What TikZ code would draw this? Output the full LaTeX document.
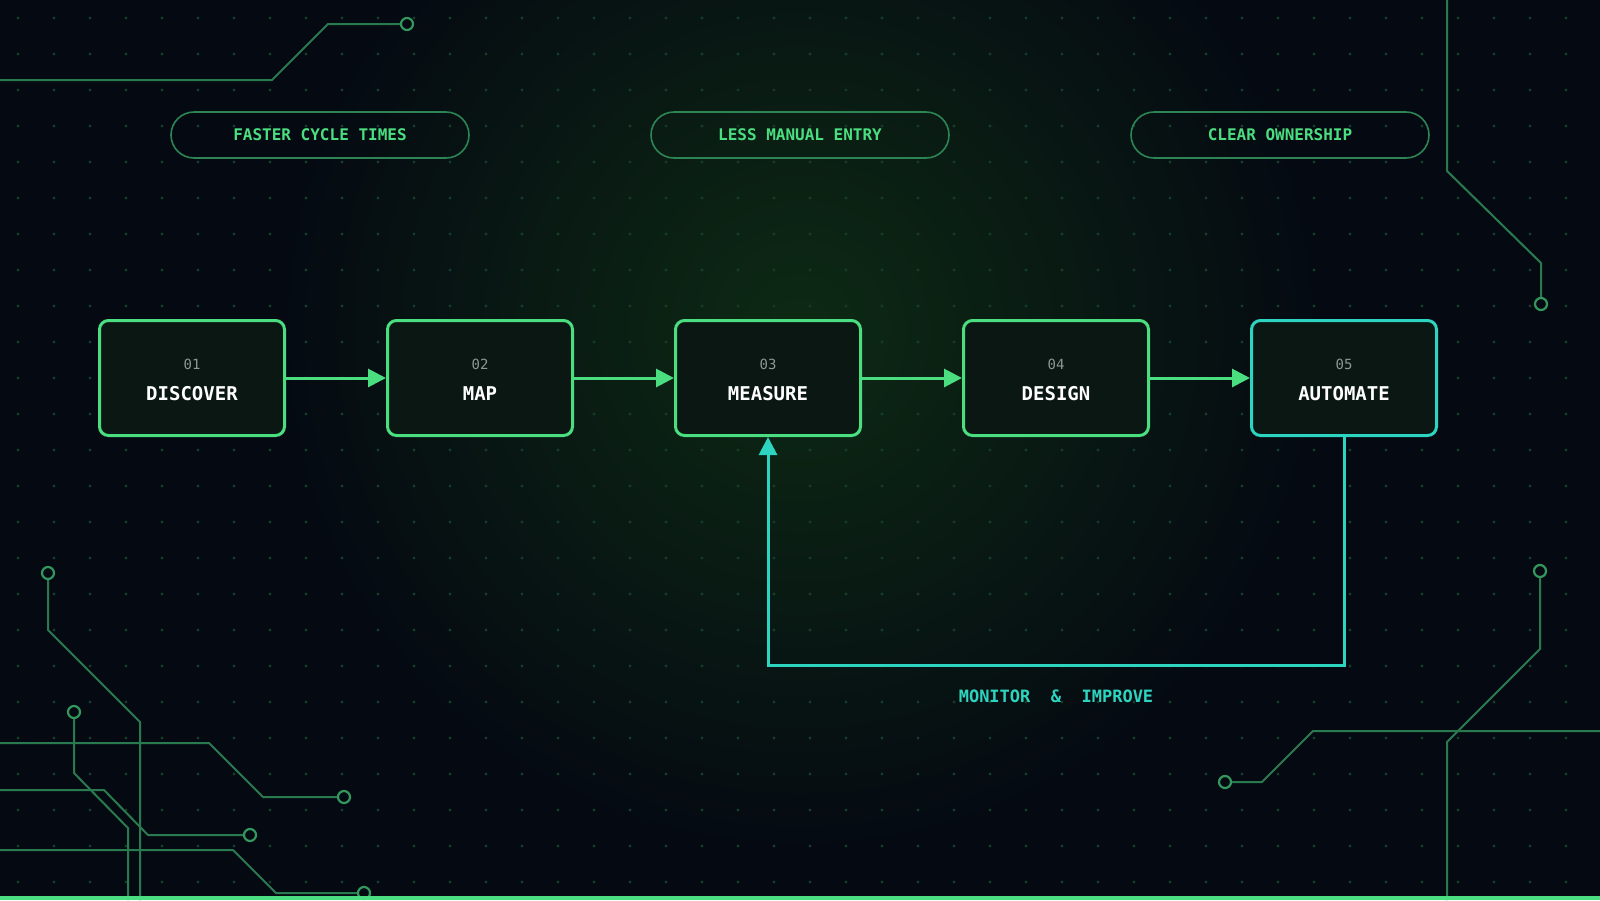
\documentclass[tikz,border=0pt]{standalone}
\usepackage{fontspec}
\setmonofont{DejaVu Sans Mono}
\usetikzlibrary{arrows.meta}
\definecolor{bg}{HTML}{050A12}
\definecolor{glow}{HTML}{0D2A14}
\definecolor{neon}{HTML}{4ADE80}
\definecolor{teal}{HTML}{2DD4BF}
\definecolor{trace}{HTML}{2A7A50}
\definecolor{dotc}{HTML}{163D28}
\definecolor{boxfill}{HTML}{0A1712}
\definecolor{numc}{HTML}{8A9A92}
\begin{document}
\begin{tikzpicture}[x=1pt,y=-1pt,
  stepbox/.style={draw=neon,line width=3pt,rounded corners=9pt,fill=boxfill,minimum width=185pt,minimum height=115pt,inner sep=0pt},
  pill/.style={draw=trace!90!neon,line width=1.6pt,rounded corners=23pt,minimum width=298pt,minimum height=46pt,text=neon,font=\ttfamily\bfseries\fontsize{16}{16}\selectfont},
  num/.style={text=numc,font=\ttfamily\fontsize{14}{14}\selectfont},
  lab/.style={text=white,font=\ttfamily\bfseries\fontsize{19}{19}\selectfont},
  flow/.style={draw=neon,line width=3pt,-{Triangle[length=18pt,width=18pt]}},
  tr/.style={draw=trace,line width=2pt},
  pad/.style={draw=trace!70!neon,line width=2.2pt,fill=bg,circle,minimum size=12pt,inner sep=0pt}]
\fill[bg] (0,0) rectangle (1600,900);
\useasboundingbox (0,0) rectangle (1600,900);
\begin{scope}
\clip (0,0) rectangle (1600,900);
\shade[inner color=glow,outer color=bg] (800,330) circle (520);
\end{scope}
\foreach \i in {0,...,44}{\foreach \j in {0,...,24}{
  \fill[dotc] (18+36*\i,18+36*\j) circle (1.7);}}
% circuit traces
\node[pad] (p1) at (407,24) {};
\draw[tr] (0,80) -- (272,80) -- (328,24) -- (p1);
\node[pad] (p2) at (1541,304) {};
\draw[tr] (1447,0) -- (1447,171) -- (1541,263) -- (p2);
\node[pad] (p3) at (48,573) {};
\draw[tr] (p3) -- (48,630) -- (140,722) -- (140,900);
\node[pad] (p4) at (74,712) {};
\draw[tr] (p4) -- (74,773) -- (128,828) -- (128,900);
\node[pad] (p5) at (344,797) {};
\draw[tr] (0,743) -- (209,743) -- (263,797) -- (p5);
\node[pad] (p6) at (250,835) {};
\draw[tr] (0,790) -- (104,790) -- (148,835) -- (p6);
\node[pad] (p7) at (364,893) {};
\draw[tr] (0,850) -- (233,850) -- (276,893) -- (p7);
\node[pad] (p8) at (1540,571) {};
\draw[tr] (p8) -- (1540,649) -- (1447,742) -- (1447,900);
\node[pad] (p9) at (1225,782) {};
\draw[tr] (1600,731) -- (1313,731) -- (1262,782) -- (p9);
\fill[neon] (0,896) rectangle (1600,900);
% pills
\node[pill] (b1) at (320,135) {FASTER CYCLE TIMES};
\node[pill] (b2) at (800,135) {LESS MANUAL ENTRY};
\node[pill] (b3) at (1280,135) {CLEAR OWNERSHIP};
% steps
\foreach \n/\x/\k/\t/\c in {s1/192/01/DISCOVER/neon,s2/480/02/MAP/neon,s3/768/03/MEASURE/neon,s4/1056/04/DESIGN/neon,s5/1344/05/AUTOMATE/teal}{
  \node[stepbox,draw=\c] (\n) at (\x,378) {};
  \node[num] (\n n) at (\x,364) {\k};
  \node[lab] (\n l) at (\x,394) {\t};
}
\draw[flow] (s1) -- (s2);
\draw[flow] (s2) -- (s3);
\draw[flow] (s3) -- (s4);
\draw[flow] (s4) -- (s5);
\coordinate (c1) at (1344,665);
\coordinate (c2) at (768,665);
\draw[draw=teal,line width=3pt,-{Triangle[length=18pt,width=18pt]}] (s5.south) -- (c1) -- (c2) -- (s3.south);
\node[text=teal,font=\ttfamily\bfseries\fontsize{17}{17}\selectfont] (fb) at (1056,696) {MONITOR~~\&~~IMPROVE};
\end{tikzpicture}
\end{document}
